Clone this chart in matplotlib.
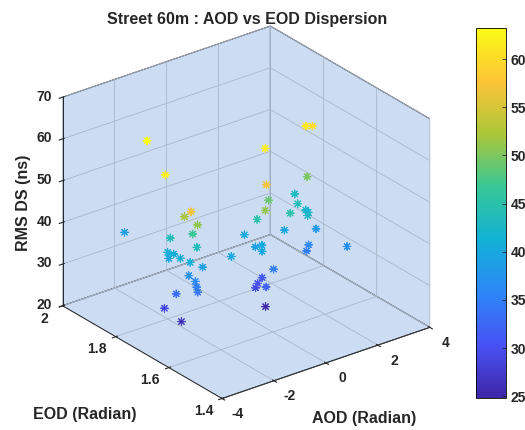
import numpy as np
import matplotlib
matplotlib.use("Agg")
import matplotlib.pyplot as plt
from matplotlib.colors import LinearSegmentedColormap
from matplotlib.transforms import ScaledTranslation

# AOD (rad), EOD (rad), RMS delay spread (ns) per path
aod = [-2.59, -3.36, -3.40, -2.90, -2.75, -2.55, -2.74, -2.48, -2.74, -2.88,
       -2.80, -2.93, -2.82, -2.75, -2.30, -2.64, -2.55, -2.58, -2.59, -3.01,
       -3.20, -2.82, -0.11, -1.33, 2.26, 2.59, 0.17, -0.45, 2.09, 0.35,
       -0.50, -0.03, 2.29, 1.78, 1.03, 2.06, 2.02, 1.70, 1.05, 2.22,
       -0.18, -0.12, -0.37, 1.72, 1.59, 2.41, 0.03, 0.09, -0.08, -0.14,
       -0.37, 0.05]
eod = [1.82, 1.676, 1.575, 1.649, 1.614, 1.652, 1.718, 1.643, 1.89, 1.714,
       1.699, 1.705, 1.672, 1.642, 1.639, 1.658, 1.642, 1.634, 1.629, 1.669,
       1.695, 1.668, 1.696, 1.626, 1.696, 1.704, 1.645, 1.58, 1.675, 1.65,
       1.579, 1.656, 1.741, 1.68, 1.635, 1.677, 1.664, 1.635, 1.659, 1.654,
       1.648, 1.629, 1.604, 1.633, 1.628, 1.556, 1.60, 1.649, 1.649, 1.651,
       1.589, 1.632]
rms_ds = [63.2, 62, 57, 52, 51, 47, 44, 44, 39, 41,
          41, 40, 41, 41, 39, 37, 36, 35, 34, 33,
          29, 26, 40, 40, 61, 60, 62, 57, 50, 49,
          51, 45, 43, 44, 45, 42, 42, 43, 40, 38,
          39, 40, 40, 36, 35, 37, 35, 31, 30, 29,
          32, 24.8]

x_ticks = [-4, -2, 0, 2, 4]
y_ticks = [1.4, 1.6, 1.8, 2]
y_ticklabels = ["1.4", "1.6", "1.8", "2"]
z_ticks = [20, 30, 40, 50, 60, 70]
cb_ticks = [25, 30, 35, 40, 45, 50, 55, 60]

parula = LinearSegmentedColormap.from_list("parula", [
    (0.2422, 0.1504, 0.6603), (0.2810, 0.3228, 0.9579),
    (0.1786, 0.5289, 0.9682), (0.0689, 0.6948, 0.8394),
    (0.2161, 0.7843, 0.5923), (0.6720, 0.7793, 0.2227),
    (0.9970, 0.7659, 0.2199), (0.9769, 0.9839, 0.0805)])

plt.rcParams["font.family"] = ["Liberation Sans", "DejaVu Sans"]
plt.rcParams["font.weight"] = "bold"
plt.rcParams["axes.unicode_minus"] = False
plt.rcParams["text.color"] = "#262626"
plt.rcParams["xtick.color"] = "#262626"
plt.rcParams["ytick.color"] = "#262626"
plt.rcParams["grid.color"] = "#a9b6c8"
plt.rcParams["grid.linewidth"] = 0.6

fig = plt.figure(figsize=(5.25, 4.3), dpi=100)
ax = fig.add_axes([-0.01, -0.001, 0.936, 0.988], projection="3d")
ax.set_proj_type("ortho")
ax.view_init(elev=26.5, azim=-127.5)
ax.set_box_aspect((1, 1, 0.89))

sc = ax.scatter(aod, eod, rms_ds, c=rms_ds, cmap=parula, marker=(8, 2, 0),
                s=30, linewidths=0.75, depthshade=False)

ax.set_xlim(-4, 4)
ax.set_ylim(1.4, 2)
ax.set_zlim(20, 70)
ax.set_xticks(x_ticks)
ax.set_yticks(y_ticks)
ax.set_zticks(z_ticks)
ax.set_yticklabels(y_ticklabels)
ax.tick_params(labelsize=10, pad=-3)


def shift_ticklabels(axis, dx, dy):
    # Axis3D resets tick transforms in get_major_ticks, so add the
    # pixel offset there
    off = ScaledTranslation(dx / fig.dpi, dy / fig.dpi, fig.dpi_scale_trans)
    get_ticks = axis.get_major_ticks

    def shifted(numticks=None):
        ticks = get_ticks(numticks)
        for t in ticks:
            t.label1.set_transform(axis.axes.transData + off)
        return ticks

    axis.get_major_ticks = shifted


shift_ticklabels(ax.xaxis, 11, 1)
shift_ticklabels(ax.yaxis, -12, 3)
shift_ticklabels(ax.zaxis, -7, 7)

pane = (0.80, 0.865, 0.953)
for a in (ax.xaxis, ax.yaxis, ax.zaxis):
    a.set_pane_color(pane)
    a.pane.set_edgecolor("#262626")
    a.pane.set_linewidth(0.7)
    a.line.set_color("#262626")
    a.line.set_linewidth(0.7)

fig.text(0.47, 0.944, "Street 60m : AOD vs EOD Dispersion",
         ha="center", va="baseline", fontsize=11.5)
fig.text(0.162, 0.025, "EOD (Radian)", ha="center", va="baseline",
         fontsize=11.5)
fig.text(0.693, 0.017, "AOD (Radian)", ha="center", va="baseline",
         fontsize=11.5)
fig.text(0.045, 0.528, "RMS DS (ns)", ha="center", va="center",
         rotation=90, fontsize=11.5)

cax = fig.add_axes([0.907, 0.074, 0.057, 0.86])
cb = fig.colorbar(sc, cax=cax)
cb.set_ticks(cb_ticks)
cb.ax.tick_params(direction="in", labelsize=10, length=3, width=0.6)
cb.outline.set_linewidth(0.6)

fig.savefig("out.png", dpi=100)
